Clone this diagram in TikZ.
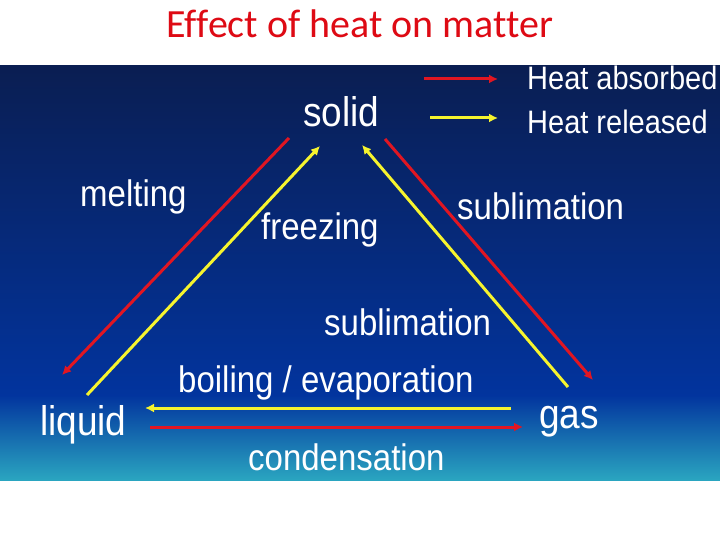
\documentclass[tikz,border=0pt]{standalone}
\usepackage{fontspec}
\setmainfont{Liberation Sans}
\newfontfamily\titlefont[Ligatures=NoCommon]{Carlito}
\usetikzlibrary{arrows.meta}

\definecolor{heatred}{RGB}{225,22,34}
\definecolor{heatyellow}{RGB}{246,244,46}
\definecolor{titlered}{RGB}{222,10,20}
\definecolor{navytop}{RGB}{10,30,82}
\definecolor{royal}{RGB}{2,52,158}
\definecolor{seablue}{RGB}{42,165,192}

% slightly taller lettering, as on the slide
\newcommand{\tallt}[1]{\scalebox{1}[1.12]{#1}}

\begin{document}
\begin{tikzpicture}[x=1pt,y=-1pt,
  absorbed/.style={draw=heatred,line width=3pt,-{Latex[length=9pt,width=9pt]}},
  released/.style={draw=heatyellow,line width=3pt,-{Latex[length=9pt,width=9pt]}},
  statetxt/.style={text=white,inner sep=0pt,anchor=base west,font=\fontsize{37}{40}\selectfont},
  phasetxt/.style={text=white,inner sep=0pt,anchor=base west,font=\fontsize{33}{36}\selectfont},
  keytxt/.style={text=white,inner sep=0pt,anchor=base west,font=\fontsize{29}{32}\selectfont}]
\useasboundingbox (0,0) rectangle (720,540);

% Background
\fill[white] (0,0) rectangle (720,540);
\shade[top color=navytop,bottom color=royal] (0,66) rectangle (720,396);
\shade[top color=royal,bottom color=seablue] (0,395) rectangle (720,480);

% Title
\node[text=titlered,inner sep=0pt,anchor=base,font=\titlefont\fontsize{40}{44}\selectfont] (title) at (360,38) {Effect of heat on matter};

% Legend
\coordinate (kA1) at (424,79);
\coordinate (kA2) at (498,79);
\coordinate (kR1) at (430,118);
\coordinate (kR2) at (498,118);
\draw[absorbed] (kA1) -- (kA2);
\draw[released] (kR1) -- (kR2);
\node[keytxt] (absorbed) at (527,90) {\tallt{Heat absorbed}};
\node[keytxt] (released) at (527,134) {\tallt{Heat released}};

% States
\node[statetxt] (solid) at (303,127) {\tallt{solid}};
\node[statetxt] (liquid) at (40,435) {\tallt{liquid}};
\node[statetxt] (gas) at (539,428) {\tallt{gas}};

% Changes of state
\node[phasetxt] (melting) at (80,207) {\tallt{melting}};
\node[phasetxt] (freezing) at (261,240) {\tallt{freezing}};
\node[phasetxt] (sublim1) at (457,220) {\tallt{sublimation}};
\node[phasetxt] (sublim2) at (324,335) {\tallt{sublimation}};
\node[phasetxt] (boiling) at (178,392) {\tallt{boiling / evaporation}};
\node[phasetxt] (condens) at (248,470) {\tallt{condensation}};

% Arrow ends
\coordinate (melt1) at (289,138);
\coordinate (melt2) at (62,375);
\coordinate (frz1) at (87,395);
\coordinate (frz2) at (320,146);
\coordinate (sub1) at (385,139);
\coordinate (sub2) at (593,380);
\coordinate (dep1) at (568,387);
\coordinate (dep2) at (362,145);
\coordinate (boil1) at (511,408);
\coordinate (boil2) at (145,408);
\coordinate (cond1) at (150,427);
\coordinate (cond2) at (523,427);

% Arrows
\draw[absorbed] (melt1) -- (melt2);
\draw[released] (frz1) -- (frz2);
\draw[absorbed] (sub1) -- (sub2);
\draw[released] (dep1) -- (dep2);
\draw[released] (boil1) -- (boil2);
\draw[absorbed] (cond1) -- (cond2);

\end{tikzpicture}
\end{document}
